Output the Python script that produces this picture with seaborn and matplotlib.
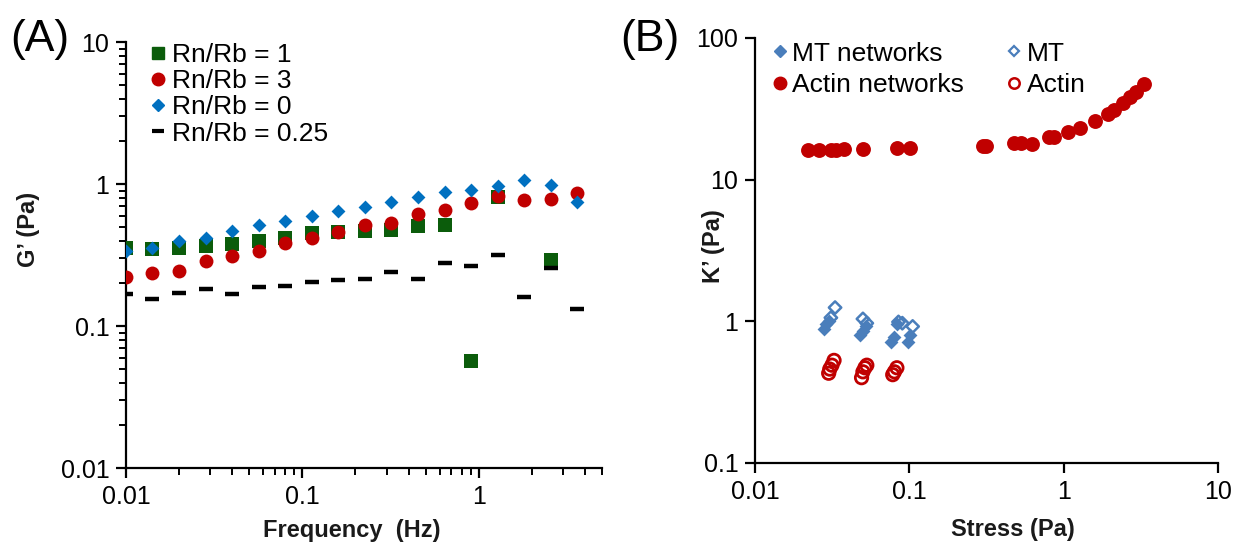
import numpy as np
import pandas as pd
import matplotlib
matplotlib.use("Agg")
import matplotlib.pyplot as plt
from matplotlib.ticker import LogLocator, FuncFormatter, NullFormatter, NullLocator
from matplotlib.lines import Line2D
import seaborn as sns

# ---------------- (A) storage modulus vs frequency ----------------
freq_hz = [0.01, 0.0141, 0.02, 0.0283, 0.04, 0.0566, 0.08, 0.113, 0.16,
           0.226, 0.32, 0.453, 0.64, 0.905, 1.28, 1.81, 2.56, 3.62]
g_rnrb_1 = [0.354, 0.348, 0.354, 0.366, 0.378, 0.397, 0.417, 0.452, 0.459,
            0.467, 0.474, 0.506, 0.514, 0.057, 0.81, np.nan, 0.29, np.nan]
g_rnrb_3 = [0.221, 0.236, 0.244, 0.287, 0.311, 0.337, 0.384, 0.417, 0.459,
            0.514, 0.531, 0.615, 0.656, 0.735, 0.823, 0.771, 0.784, 0.865]
g_rnrb_0 = [0.337, 0.354, 0.397, 0.417, 0.467, 0.514, 0.549, 0.595, 0.646,
            0.689, 0.747, 0.810, 0.879, 0.908, 0.968, 1.067, 0.984, 0.747]
g_rnrb_025 = [0.168, 0.155, 0.171, 0.182, 0.168, 0.188, 0.191, 0.204, 0.211,
              0.214, 0.240, 0.214, 0.278, 0.265, 0.316, 0.160, 0.256, 0.132]
labels_a = ["Rn/Rb = 1", "Rn/Rb = 3", "Rn/Rb = 0", "Rn/Rb = 0.25"]

# ---------------- (B) differential modulus vs stress ----------------
actin_net_stress = [0.0222, 0.0258, 0.0310, 0.0335, 0.0375, 0.0498, 0.0827,
                    0.1005, 0.300, 0.312, 0.474, 0.526, 0.621, 0.800, 0.861,
                    1.06, 1.27, 1.59, 1.93, 2.11, 2.41, 2.68, 2.93, 3.30]
actin_net_k = [16.2, 16.2, 16.3, 16.2, 16.4, 16.5, 16.6, 16.8, 17.2, 17.3,
               18.2, 18.2, 17.9, 20.1, 20.1, 21.8, 23.2, 26.0, 29.2, 31.1,
               34.8, 38.4, 41.7, 47.4]
mt_net_stress = [0.0280, 0.0290, 0.0300, 0.0480, 0.0500, 0.0520, 0.0760,
                 0.0790, 0.0830, 0.0980, 0.1010]
mt_net_k = [0.88, 0.95, 1.00, 0.80, 0.86, 0.93, 0.71, 0.78, 0.96, 0.72, 0.80]
mt_stress = [0.0310, 0.0330, 0.0500, 0.0530, 0.0850, 0.0900, 0.1050]
mt_k = [1.06, 1.25, 1.04, 0.97, 0.99, 0.97, 0.92]
actin_stress = [0.0300, 0.0305, 0.0315, 0.0325, 0.0490, 0.0500, 0.0515,
                0.0530, 0.0780, 0.0800, 0.0830]
actin_k = [0.43, 0.46, 0.49, 0.53, 0.40, 0.44, 0.47, 0.49, 0.42, 0.44, 0.47]
labels_b = ["MT networks", "Actin networks", "MT", "Actin"]

GREEN = "#0B5C0B"
RED = "#C00000"
BLUE = "#0070C0"
STEEL = "#4A7EBB"

sns.set_theme(style="ticks")
plt.rcParams["font.family"] = ["Liberation Sans", "DejaVu Sans"]
plt.rcParams["axes.linewidth"] = 1.6
plt.rcParams["text.color"] = "black"
plt.rcParams["axes.labelcolor"] = "black"

fig = plt.figure(figsize=(12.4, 5.47), dpi=100)
ax_a = fig.add_axes([0.1016, 0.1444, 0.3839, 0.7788])
ax_b = fig.add_axes([0.6089, 0.1536, 0.3734, 0.7770])

df_a = pd.DataFrame({"freq": freq_hz, "r1": g_rnrb_1, "r3": g_rnrb_3,
                     "r0": g_rnrb_0, "r025": g_rnrb_025})

sns.scatterplot(data=df_a, x="freq", y="r1", ax=ax_a, marker="s", s=92,
                color=GREEN, linewidth=0, zorder=3)
sns.scatterplot(data=df_a, x="freq", y="r3", ax=ax_a, marker="o", s=100,
                color=RED, linewidth=0, zorder=4)
sns.scatterplot(data=df_a, x="freq", y="r0", ax=ax_a, marker="D", s=50,
                color=BLUE, linewidth=0, zorder=5)
sns.scatterplot(data=df_a, x="freq", y="r025", ax=ax_a, marker="_", s=100,
                color="black", linewidths=3.2, zorder=6)

df_b_net = pd.DataFrame({"stress": actin_net_stress, "k": actin_net_k})
df_b_mtn = pd.DataFrame({"stress": mt_net_stress, "k": mt_net_k})
df_b_mt = pd.DataFrame({"stress": mt_stress, "k": mt_k})
df_b_act = pd.DataFrame({"stress": actin_stress, "k": actin_k})

sns.scatterplot(data=df_b_mtn, x="stress", y="k", ax=ax_b, marker="D", s=50,
                color=STEEL, linewidth=0, zorder=3)
sns.scatterplot(data=df_b_net, x="stress", y="k", ax=ax_b, marker="o", s=115,
                color=RED, linewidth=0, zorder=3)
sns.scatterplot(data=df_b_mt, x="stress", y="k", ax=ax_b, marker="D", s=40,
                color=STEEL, facecolor="none", edgecolor=STEEL,
                linewidth=1.8, zorder=4)
sns.scatterplot(data=df_b_act, x="stress", y="k", ax=ax_b, marker="o", s=80,
                color=RED, facecolor="none", edgecolor=RED,
                linewidth=2.0, zorder=4)

fmt = FuncFormatter(lambda v, _: f"{v:g}")
for ax, xlim, ylim in [(ax_a, (0.01, 5), (0.01, 10)),
                       (ax_b, (0.01, 10), (0.1, 100))]:
    ax.set_xscale("log")
    ax.set_yscale("log")
    ax.set_xlim(*xlim)
    ax.set_ylim(*ylim)
    ax.xaxis.set_major_locator(LogLocator(base=10, numticks=10))
    ax.yaxis.set_major_locator(LogLocator(base=10, numticks=10))
    ax.xaxis.set_major_formatter(fmt)
    ax.yaxis.set_major_formatter(fmt)
    ax.xaxis.set_minor_formatter(NullFormatter())
    ax.yaxis.set_minor_formatter(NullFormatter())
    sns.despine(ax=ax)
    ax.tick_params(which="major", direction="out", length=7, width=1.6,
                   labelsize=18, colors="black", pad=5)
    ax.tick_params(which="minor", direction="out", length=5, width=1.4,
                   colors="black")
    for sp in ax.spines.values():
        sp.set_color("black")

# frequency panel carries minor ticks, stress panel only decades
ax_a.xaxis.set_minor_locator(LogLocator(base=10, subs=np.arange(2, 10), numticks=20))
ax_a.yaxis.set_minor_locator(LogLocator(base=10, subs=np.arange(2, 10), numticks=20))
ax_b.xaxis.set_minor_locator(NullLocator())
ax_b.yaxis.set_minor_locator(NullLocator())

label_font = dict(fontsize=17, fontweight="bold", color="#1a1a1a")
ax_a.set_xlabel("Frequency  (Hz)", **label_font)
ax_a.set_ylabel("G’ (Pa)", **label_font)
ax_b.set_xlabel("Stress (Pa)", **label_font)
ax_b.set_ylabel("K’ (Pa)", **label_font)
ax_a.xaxis.set_label_coords(0.475, -0.12)
ax_a.yaxis.set_label_coords(-0.181, 0.56)
ax_b.xaxis.set_label_coords(0.557, -0.13)
ax_b.yaxis.set_label_coords(-0.065, 0.51)

handles_a = [
    Line2D([], [], ls="", marker="s", ms=8, mfc=GREEN, mec=GREEN),
    Line2D([], [], ls="", marker="o", ms=9, mfc=RED, mec=RED),
    Line2D([], [], ls="", marker="D", ms=6, mfc=BLUE, mec=BLUE),
    Line2D([], [], ls="", marker="_", ms=9, mew=3, color="black"),
]
ax_a.legend(handles_a, labels_a, loc="upper left", bbox_to_anchor=(0.03, 1.022),
            frameon=False, fontsize=19, handlelength=0.55, handletextpad=0.25,
            labelspacing=0.08, borderaxespad=0)

handles_b = [
    Line2D([], [], ls="", marker="D", ms=6, mfc=STEEL, mec=STEEL),
    Line2D([], [], ls="", marker="o", ms=9, mfc=RED, mec=RED),
    Line2D([], [], ls="", marker="D", ms=5.5, mfc="white", mec=STEEL, mew=1.6),
    Line2D([], [], ls="", marker="o", ms=7.5, mfc="white", mec=RED, mew=1.8),
]
ax_b.legend(handles_b, labels_b, loc="upper left", bbox_to_anchor=(0.015, 1.016),
            ncol=2, frameon=False, fontsize=19, handlelength=0.55,
            handletextpad=0.2, labelspacing=0.27, columnspacing=1.63,
            borderaxespad=0)

fig.text(0.008, 0.907, "(A)", fontsize=32)
fig.text(0.500, 0.907, "(B)", fontsize=32)

fig.savefig("out.png", dpi=100, facecolor="white")
